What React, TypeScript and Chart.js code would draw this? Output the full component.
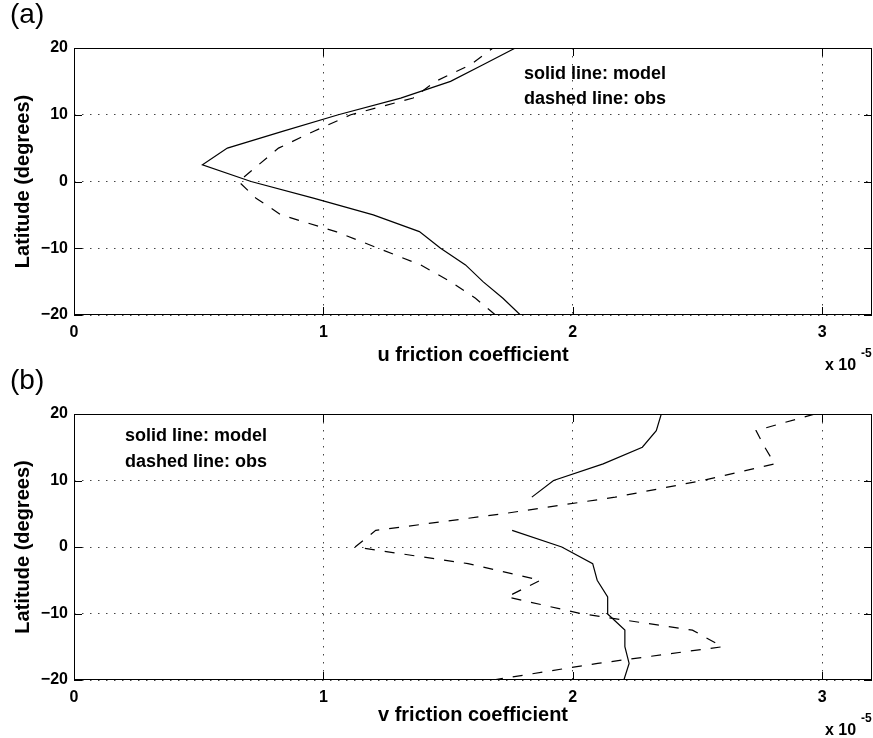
import { useEffect, useRef } from "react";
import { Chart, registerables } from "chart.js";

Chart.register(...registerables);

// Latitude grid (degrees), from south to north
const latitudes = [-20, -17.5, -15, -12.5, -10, -7.5, -5, -2.5, 0, 2.5, 5, 7.5, 10, 12.5, 15, 17.5, 20];

// Panel (a): u friction coefficient (x 1e-5)
const uModel = [1.79, 1.72, 1.64, 1.57, 1.47, 1.385, 1.2, 0.96, 0.71, 0.515, 0.615, 0.836, 1.06, 1.31, 1.51, 1.64, 1.77];
const uObs = [1.69, 1.61, 1.51, 1.39, 1.22, 1.05, 0.83, 0.73, 0.66, 0.74, 0.82, 0.96, 1.11, 1.36, 1.45, 1.59, 1.68];

// Panel (b): v friction coefficient (x 1e-5); null = gap in the model curve
const vModel = [2.205, 2.226, 2.209, 2.209, 2.138, 2.14, 2.098, 2.08, 1.956, 1.757, null, 1.836, 1.923, 2.122, 2.279, 2.335, 2.355];
const vObs = [1.68, 2.1, 2.6, 2.48, 2.03, 1.737, 1.87, 1.58, 1.127, 1.21, 1.72, 2.17, 2.52, 2.81, 2.77, 2.735, 2.97];

const xTickValues = [0, 1, 2, 3];
const yTickValues = [-20, -10, 0, 10, 20];
const xMin = 0;
const xMax = 3.2;
const yMin = -20;
const yMax = 20;

const legendSolid = "solid line: model";
const legendDashed = "dashed line: obs";
const yLabel = "Latitude (degrees)";
const expBaseText = "x 10";
const expSupText = "-5";

const FONT = "'Liberation Sans', Arial, Helvetica, sans-serif";

type PanelCfg = {
  tag: string;
  xLabel: string;
  model: (number | null)[];
  obs: number[];
  height: number;
  bottomPad: number;
  titlePad: number;
  legendX: number;
  legendY1: number;
  legendY2: number;
  expBase: number;
  expSup: number;
};

const panels: PanelCfg[] = [
  {
    tag: "(a)",
    xLabel: "u friction coefficient",
    model: uModel,
    obs: uObs,
    height: 372,
    bottomPad: 3,
    titlePad: 2,
    legendX: 524,
    legendY1: 79,
    legendY2: 104,
    expBase: 370,
    expSup: 357,
  },
  {
    tag: "(b)",
    xLabel: "v friction coefficient",
    model: vModel,
    obs: vObs,
    height: 372,
    bottomPad: 4,
    titlePad: 7,
    legendX: 125,
    legendY1: 75,
    legendY2: 101,
    expBase: 369,
    expSup: 356,
  },
];

function fmtY(v: number) {
  return v < 0 ? "\u2212" + Math.abs(v) : String(v);
}

function Panel({ cfg, top }: { cfg: PanelCfg; top: number }) {
  const ref = useRef<HTMLCanvasElement | null>(null);
  useEffect(() => {
    if (!ref.current) return;
    const frame = {
      id: "frame",
      afterDraw(chart: any) {
        const { ctx, chartArea } = chart;
        const { left, top: t, right, bottom } = chartArea;
        const xs = chart.scales.x;
        const ys = chart.scales.y;
        ctx.save();
        ctx.strokeStyle = "#000";
        ctx.lineWidth = 1;
        ctx.setLineDash([]);
        ctx.strokeRect(left + 0.5, t + 0.5, right - left - 1, bottom - t - 1);
        const tl = 8;
        ctx.beginPath();
        for (const v of xTickValues) {
          const px = Math.round(xs.getPixelForValue(v)) + 0.5;
          ctx.moveTo(px, bottom);
          ctx.lineTo(px, bottom - tl);
          ctx.moveTo(px, t);
          ctx.lineTo(px, t + tl);
        }
        for (const v of yTickValues) {
          const py = Math.round(ys.getPixelForValue(v)) + 0.5;
          ctx.moveTo(left, py);
          ctx.lineTo(left + tl, py);
          ctx.moveTo(right, py);
          ctx.lineTo(right - tl, py);
        }
        ctx.stroke();

        ctx.fillStyle = "#000";
        ctx.textBaseline = "alphabetic";
        ctx.textAlign = "left";
        ctx.font = `28px ${FONT}`;
        ctx.fillText(cfg.tag, 10, 23);
        ctx.font = `bold 18px ${FONT}`;
        ctx.fillText(legendSolid, cfg.legendX, cfg.legendY1);
        ctx.fillText(legendDashed, cfg.legendX, cfg.legendY2);
        ctx.font = `bold 16px ${FONT}`;
        ctx.fillText(expBaseText, 825, cfg.expBase);
        ctx.font = `bold 12px ${FONT}`;
        ctx.fillText(expSupText, 861, cfg.expSup);
        ctx.restore();
      },
    };

    const gridOpts = { color: "#444", lineWidth: 1, drawTicks: false };
    const borderOpts = { display: false, dash: [1.5, 6.5] };
    const chart = new Chart(ref.current, {
      type: "scatter",
      data: {
        datasets: [
          {
            label: "model",
            data: latitudes.map((lat, i) => ({ x: cfg.model[i], y: lat })) as any,
            showLine: true,
            borderColor: "#000",
            borderWidth: 1.2,
            pointRadius: 0,
            spanGaps: false,
          },
          {
            label: "obs",
            data: latitudes.map((lat, i) => ({ x: cfg.obs[i], y: lat })),
            showLine: true,
            borderColor: "#000",
            borderWidth: 1.2,
            borderDash: [10, 10],
            pointRadius: 0,
          },
        ],
      },
      options: {
        animation: false,
        responsive: false,
        events: [],
        layout: { padding: { left: 0, right: 1, top: 48, bottom: cfg.bottomPad } },
        plugins: { legend: { display: false }, tooltip: { enabled: false }, title: { display: false } },
        scales: {
          x: {
            type: "linear",
            min: xMin,
            max: xMax,
            afterBuildTicks: (s: any) => {
              s.ticks = xTickValues.map((v) => ({ value: v }));
            },
            afterFit: (s: any) => {
              s.height = 54;
            },
            ticks: {
              color: "#000",
              font: { family: FONT, size: 16, weight: "bold" },
              padding: 8,
              maxRotation: 0,
              autoSkip: false,
              callback: (v: any) => String(v),
            },
            title: {
              display: true,
              text: cfg.xLabel,
              color: "#000",
              font: { family: FONT, size: 20, weight: "bold" },
              padding: { top: 0, bottom: cfg.titlePad },
            },
            grid: gridOpts,
            border: borderOpts,
          },
          y: {
            type: "linear",
            min: yMin,
            max: yMax,
            afterBuildTicks: (s: any) => {
              s.ticks = yTickValues.map((v) => ({ value: v }));
            },
            afterFit: (s: any) => {
              s.width = 74;
            },
            ticks: {
              color: "#000",
              font: { family: FONT, size: 16, weight: "bold" },
              padding: 6,
              autoSkip: false,
              callback: (v: any) => fmtY(Number(v)),
            },
            title: {
              display: true,
              text: yLabel,
              color: "#000",
              font: { family: FONT, size: 20, weight: "bold" },
              padding: { top: 11, bottom: 0 },
            },
            grid: gridOpts,
            border: borderOpts,
          },
        },
      } as any,
      plugins: [frame],
    });
    return () => chart.destroy();
  }, [cfg]);

  return (
    <canvas
      ref={ref}
      width={873}
      height={cfg.height}
      style={{ position: "absolute", left: 0, top, width: 873, height: cfg.height }}
    />
  );
}

export default function App() {
  return (
    <div style={{ position: "absolute", left: 0, top: 0, width: 873, height: 738, background: "#fff", overflow: "hidden" }}>
      <Panel cfg={panels[0]} top={0} />
      <Panel cfg={panels[1]} top={366} />
    </div>
  );
}
